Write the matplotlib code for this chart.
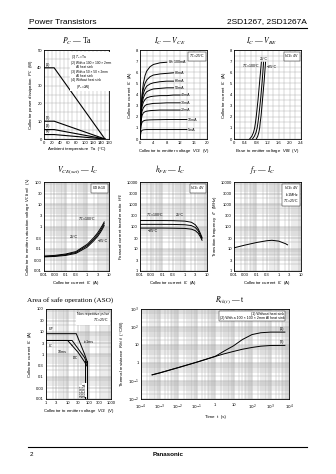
import matplotlib
matplotlib.use("Agg")
import matplotlib.pyplot as plt
from matplotlib.ticker import MultipleLocator, NullFormatter

W, H = 336, 474

# ---- P_C - Ta ----
TA = [0, 25, 150]
PC_1 = [40, 40, 0]
PC_2 = [10, 10, 0]
PC_3 = [5.3, 5.3, 0]
PC_4 = [2.5, 2.5, 0]

# ---- I_C - V_CE (Tc=25C) ----
VCE_GRID = [0, 0.3, 0.6, 1, 1.5, 2, 3, 4, 6, 8, 10, 12, 14]
IB_LABELS = ["$I_B$=100mA", "80mA", "60mA", "50mA", "40mA", "30mA", "20mA", "10mA", "5mA"]
IC_IB100 = [0, 2.6, 4.0, 5.0, 5.7, 6.1, 6.5, 6.7, 6.85, 6.9]
IC_IB80 = [0, 2.5, 3.7, 4.5, 5.0, 5.3, 5.6, 5.75, 5.85, 5.9, 5.95]
IC_IB60 = [0, 2.4, 3.5, 4.1, 4.5, 4.75, 4.95, 5.05, 5.15, 5.2, 5.2]
IC_IB50 = [0, 2.3, 3.2, 3.7, 4.05, 4.25, 4.4, 4.5, 4.55, 4.6, 4.6]
IC_IB40 = [0, 2.2, 2.9, 3.3, 3.55, 3.7, 3.8, 3.85, 3.9, 3.9, 3.95, 3.95]
IC_IB30 = [0, 1.9, 2.5, 2.8, 3.0, 3.1, 3.15, 3.2, 3.22, 3.25, 3.25, 3.25]
IC_IB20 = [0, 1.6, 2.1, 2.35, 2.45, 2.5, 2.55, 2.57, 2.6, 2.6, 2.6, 2.6]
IC_IB10 = [0, 1.2, 1.5, 1.62, 1.68, 1.7, 1.72, 1.73, 1.74, 1.75, 1.75, 1.75, 1.75]
IC_IB5 = [0, 0.65, 0.78, 0.82, 0.84, 0.85, 0.85, 0.85, 0.85, 0.85, 0.85, 0.85, 0.85]

# ---- I_C - V_BE (VCE=4V) ----
IC_VBE = [0, 0.25, 0.6, 1.0, 1.5, 2.1, 3.5, 5.2, 6.9]
VBE_100 = [0.56, 0.64, 0.70, 0.74, 0.77, 0.80, 0.86, 0.92, 0.98]
VBE_25 = [0.66, 0.73, 0.79, 0.83, 0.86, 0.89, 0.95, 1.01, 1.06]
VBE_M25 = [0.80, 0.85, 0.89, 0.92, 0.94, 0.97, 1.02, 1.08, 1.13]

# ---- V_CE(sat) - I_C ----
IC_SAT = [0.01, 0.03, 0.1, 0.3, 1, 2, 3, 4, 5, 6]
VSAT_100 = [0.047, 0.05, 0.058, 0.075, 0.16, 0.32, 0.52, 0.8, 1.15, 1.6]
VSAT_25 = [0.045, 0.047, 0.054, 0.068, 0.14, 0.27, 0.43, 0.65, 0.95, 1.35]
VSAT_M25 = [0.043, 0.045, 0.05, 0.062, 0.12, 0.23, 0.36, 0.54, 0.78, 1.1]

# ---- h_FE - I_C ----
IC_HFE = [0.01, 0.03, 0.1, 0.3, 1, 2, 3, 4, 5, 6]
HFE_100 = [185, 185, 185, 183, 175, 155, 120, 80, 50, 32]
HFE_25 = [125, 125, 125, 124, 120, 110, 90, 65, 42, 28]
HFE_M25 = [85, 85, 85, 84, 82, 76, 65, 50, 35, 24]

# ---- f_T - I_C ----
IC_FT = [0.01, 0.03, 0.1, 0.3, 0.5, 1, 2, 2.5]
FT = [11, 14.5, 19, 23, 24, 22, 17, 15]

# ---- ASO ----
ASO_V_1MS = [1, 25, 60, 80]
ASO_I_1MS = [8, 8, 1.0, 0.45]
ASO_V_10MS = [1, 16, 60, 80]
ASO_I_10MS = [4, 4, 0.7, 0.35]
ASO_V_DC = [1, 10, 30, 60, 80]
ASO_I_DC = [4, 4, 1.2, 0.45, 0.28]
VCEO = [60, 80]
VCEO_NAMES = ["2SD1267", "2SD1267A"]

# ---- R_th(t) - t ----
T_RTH = [4e-4, 1e-3, 1e-2, 1e-1, 1, 3, 10, 30, 100, 300, 1000, 6000]
RTH_1 = [0.22, 0.28, 0.55, 1.1, 2.3, 4.5, 9, 20, 38, 48, 52, 52]
RTH_2 = [0.22, 0.28, 0.55, 1.1, 2.3, 3.2, 4.4, 5.8, 7.3, 8.6, 9.4, 9.5]

plt.rcParams["font.family"] = ["Liberation Sans", "DejaVu Sans"]
plt.rcParams["mathtext.fontset"] = "dejavusans"

GRID = "#a8a8a8"
TS = 3.0     # tick labels
LS = 3.2     # axis labels
AS = 2.6     # annotations


def panel(fig, l, t, r, b):
    ax = fig.add_axes([l / W, 1 - b / H, (r - l) / W, (b - t) / H])
    ax.tick_params(which="both", labelsize=TS, length=0, pad=1.5)
    for s in ax.spines.values():
        s.set_linewidth(0.6)
    return ax


def lin_grid(ax, xminor, yminor):
    ax.xaxis.set_minor_locator(MultipleLocator(xminor))
    ax.yaxis.set_minor_locator(MultipleLocator(yminor))
    ax.grid(which="both", color=GRID, lw=0.3)
    ax.set_axisbelow(True)


def log_axes(ax, xticks, xlabels, yticks, ylabels):
    ax.set_xscale("log")
    ax.set_yscale("log")
    ax.set_xlim(xticks[0], xticks[-1])
    ax.set_ylim(yticks[0], yticks[-1])
    ax.set_xticks(xticks)
    ax.set_xticklabels(xlabels)
    ax.set_yticks(yticks)
    ax.set_yticklabels(ylabels)
    ax.xaxis.set_minor_formatter(NullFormatter())
    ax.yaxis.set_minor_formatter(NullFormatter())
    ax.grid(which="major", color="#8c8c8c", lw=0.35)
    ax.grid(which="minor", color=GRID, lw=0.3)
    ax.set_axisbelow(True)


def title(fig, x, y, s, size=5.5):
    fig.text(x / W, 1 - y / H, s, ha="center", va="center", fontsize=size,
             family="Liberation Serif", math_fontfamily="stix")


def labels(ax, xl, yl):
    ax.set_xlabel(xl, fontsize=LS, labelpad=1.5)
    ax.set_ylabel(yl, fontsize=LS, labelpad=1.5)


def box(ax, x, y, s, ha="right", va="top"):
    ax.text(x, y, s, transform=ax.transAxes, ha=ha, va=va, fontsize=AS,
            linespacing=1.2,
            bbox=dict(boxstyle="square,pad=0.25", fc="white", ec="black", lw=0.3))


def main():
    fig = plt.figure(figsize=(W / 100, H / 100), dpi=100)

    # header / footer
    fig.text(29 / W, 1 - 22 / H, "Power Transistors", fontsize=6, va="center")
    fig.text(307 / W, 1 - 22 / H, "2SD1267, 2SD1267A", fontsize=6, va="center", ha="right")
    fig.add_artist(plt.Line2D([28 / W, 307 / W], [1 - 27.5 / H] * 2, color="black", lw=0.8))
    fig.add_artist(plt.Line2D([28 / W, 307 / W], [1 - 447 / H] * 2, color="black", lw=0.8))
    fig.text(30 / W, 1 - 455 / H, "2", fontsize=4.5, va="center")
    fig.text(168 / W, 1 - 455 / H, "Panasonic", fontsize=4.5, va="center", ha="center",
             weight="bold")

    # P_C - Ta
    ax = panel(fig, 44, 50, 109, 139)
    for pc in (PC_1, PC_2, PC_3, PC_4):
        ax.plot(TA, pc, color="black", lw=0.8)
    ax.set_xlim(0, 160)
    ax.set_ylim(0, 50)
    ax.set_xticks(range(0, 161, 20))
    ax.set_yticks(range(0, 51, 10))
    lin_grid(ax, 10, 5)
    for name, pc in zip(["(1)", "(2)", "(3)", "(4)"], (PC_1, PC_2, PC_3, PC_4)):
        ax.text(4, pc[0] + 0.6, name, fontsize=AS, va="bottom")
    ax.text(66, 48.5, "(1) $T_C$=Ta\n(2) With a 100 × 100 × 2mm\n      Al heat sink\n"
            "(3) With a 50 × 50 × 2mm\n      Al heat sink\n(4) Without heat sink\n"
            "      ($P_C$=2W)", fontsize=2.3, va="top", linespacing=1.1,
            bbox=dict(fc="white", ec="none", pad=0.5))
    labels(ax, "Ambient temperature  Ta  (°C)", "Collector power dissipation  $P_C$  (W)")
    title(fig, 77, 41, "$P_C$ — Ta")

    # I_C - V_CE
    ax = panel(fig, 140, 50, 207, 139)
    curves = [IC_IB100, IC_IB80, IC_IB60, IC_IB50, IC_IB40, IC_IB30, IC_IB20, IC_IB10, IC_IB5]
    for name, ic in zip(IB_LABELS, curves):
        v = VCE_GRID[:len(ic)]
        ax.plot(v, ic, color="black", lw=0.7)
        ax.text(v[-1] + 0.3, ic[-1], name, fontsize=AS, va="center")
    ax.set_xlim(0, 20)
    ax.set_ylim(0, 8)
    ax.set_xticks(range(0, 21, 4))
    ax.set_yticks(range(0, 9))
    lin_grid(ax, 2, 0.5)
    box(ax, 0.97, 0.97, "$T_C$=25°C")
    labels(ax, "Collector to emitter voltage  $V_{CE}$  (V)", "Collector current  $I_C$  (A)")
    title(fig, 170, 41, "$I_C$ — $V_{CE}$")

    # I_C - V_BE
    ax = panel(fig, 234, 50, 301, 139)
    for vbe in (VBE_100, VBE_25, VBE_M25):
        ax.plot(vbe, IC_VBE, color="black", lw=0.7)
    ax.text(VBE_25[-1], 7.05, "25°C", fontsize=AS, ha="center", va="bottom")
    ax.text(VBE_100[-1] - 0.06, 6.5, "$T_C$=100°C", fontsize=AS, ha="right", va="center")
    ax.text(VBE_M25[-1] + 0.04, 6.5, "−25°C", fontsize=AS, ha="left", va="center")
    ax.set_xlim(0, 2.4)
    ax.set_ylim(0, 8)
    ax.set_xticks([0, 0.4, 0.8, 1.2, 1.6, 2.0, 2.4])
    ax.set_xticklabels(["0", "0.4", "0.8", "1.2", "1.6", "2.0", "2.4"])
    ax.set_yticks(range(0, 9))
    lin_grid(ax, 0.2, 0.5)
    box(ax, 0.97, 0.97, "$V_{CE}$=4V")
    labels(ax, "Base to emitter voltage  $V_{BE}$  (V)", "Collector current  $I_C$  (A)")
    title(fig, 262, 41, "$I_C$ — $V_{BE}$")

    ic_ticks = [0.01, 0.03, 0.1, 0.3, 1, 3, 10]
    ic_labels = ["0.01", "0.03", "0.1", "0.3", "1", "3", "10"]

    # V_CE(sat) - I_C
    ax = panel(fig, 44, 182, 109, 271)
    for vs in (VSAT_100, VSAT_25, VSAT_M25):
        ax.plot(IC_SAT, vs, color="black", lw=0.7)
    log_axes(ax, ic_ticks, ic_labels,
             [0.01, 0.03, 0.1, 0.3, 1, 3, 10, 30, 100],
             ["0.01", "0.03", "0.1", "0.3", "1", "3", "10", "30", "100"])
    ax.text(1.0, 1.5, "$T_C$=100°C", fontsize=AS, ha="center", va="bottom")
    ax.text(0.25, 0.3, "25°C", fontsize=AS, ha="center")
    ax.text(3.2, 0.2, "−25°C", fontsize=AS, ha="left")
    box(ax, 0.97, 0.97, "$I_C$/$I_B$=10")
    labels(ax, "Collector current  $I_C$  (A)",
           "Collector to emitter saturation voltage  $V_{CE(sat)}$  (V)")
    title(fig, 78, 170, "$V_{CE(sat)}$ — $I_C$")

    hfe_ticks = [1, 3, 10, 30, 100, 300, 1000, 3000, 10000]
    hfe_labels = ["1", "3", "10", "30", "100", "300", "1000", "3000", "10000"]

    # h_FE - I_C
    ax = panel(fig, 140, 182, 207, 271)
    for h in (HFE_100, HFE_25, HFE_M25):
        ax.plot(IC_HFE, h, color="black", lw=0.7)
    log_axes(ax, ic_ticks, ic_labels, hfe_ticks, hfe_labels)
    ax.text(0.018, 215, "$T_C$=100°C", fontsize=AS, va="bottom")
    ax.annotate("25°C", xy=(0.3, 190), xytext=(0.4, 260), fontsize=AS, va="bottom",
                arrowprops=dict(arrowstyle="-", lw=0.3))
    ax.text(0.022, 60, "−25°C", fontsize=AS, va="center")
    box(ax, 0.97, 0.97, "$V_{CE}$=4V")
    labels(ax, "Collector current  $I_C$  (A)", "Forward current transfer ratio  $h_{FE}$")
    title(fig, 170, 170, "$h_{FE}$ — $I_C$")

    # f_T - I_C
    ax = panel(fig, 234, 182, 301, 271)
    ax.plot(IC_FT, FT, color="black", lw=0.7)
    log_axes(ax, ic_ticks, ic_labels, hfe_ticks, hfe_labels)
    box(ax, 0.97, 0.97, "$V_{CE}$=4V\nf=1MHz\n$T_C$=25°C", ha="right")
    labels(ax, "Collector current  $I_C$  (A)", "Transition frequency  $f_T$  (MHz)")
    title(fig, 262, 170, "$f_T$ — $I_C$")

    # ASO
    ax = panel(fig, 46, 309, 111, 399)
    ax.plot(ASO_V_1MS, ASO_I_1MS, color="black", lw=0.7)
    ax.plot(ASO_V_10MS, ASO_I_10MS, color="black", lw=0.7)
    ax.plot(ASO_V_DC, ASO_I_DC, color="black", lw=0.7)
    for v, name in zip(VCEO, VCEO_NAMES):
        ax.plot([v, v], [0.01, 0.5], color="black", lw=0.7)
        ax.text(v * 0.92, 0.012, name, fontsize=2.2, rotation=90, ha="right", va="bottom",
                bbox=dict(fc="white", ec="none", pad=0.2))
    log_axes(ax, [1, 3, 10, 30, 100, 300, 1000],
             ["1", "3", "10", "30", "100", "300", "1000"],
             [0.01, 0.03, 0.1, 0.3, 1, 3, 10, 30, 100],
             ["0.01", "0.03", "0.1", "0.3", "1", "3", "10", "30", "100"])
    ax.text(1.2, ASO_I_1MS[0] * 1.1, "$I_{CP}$", fontsize=AS, va="bottom")
    ax.text(1.2, ASO_I_DC[0] * 0.85, "$I_C$", fontsize=AS, va="top")
    ax.text(58, 3.5, "t=1ms", fontsize=AS, va="center")
    ax.annotate("10ms", xy=(18, 2.6), xytext=(3.5, 1.2), fontsize=AS, va="center",
                arrowprops=dict(arrowstyle="-", lw=0.3))
    ax.text(17, 0.65, "DC", fontsize=AS, va="center")
    ax.text(0.97, 0.97, "Non repetitive pulse\n$T_C$=25°C", transform=ax.transAxes,
            ha="right", va="top", fontsize=AS, bbox=dict(fc="white", ec="none", pad=0.5))
    labels(ax, "Collector to emitter voltage  $V_{CE}$  (V)", "Collector current  $I_C$  (A)")
    title(fig, 70, 300, "Area of safe operation (ASO)", size=5.2)

    # R_th(t) - t
    ax = panel(fig, 141, 309, 289, 399)
    ax.plot(T_RTH, RTH_1, color="black", lw=0.7)
    ax.plot(T_RTH, RTH_2, color="black", lw=0.7)
    log_axes(ax, [1e-4, 1e-3, 1e-2, 1e-1, 1, 10, 1e2, 1e3, 1e4],
             ["$10^{-4}$", "$10^{-3}$", "$10^{-2}$", "$10^{-1}$", "1", "10",
              "$10^{2}$", "$10^{3}$", "$10^{4}$"],
             [1e-2, 1e-1, 1, 10, 1e2, 1e3],
             ["$10^{-2}$", "$10^{-1}$", "1", "10", "$10^{2}$", "$10^{3}$"])
    ax.tick_params(axis="x", pad=3)
    ax.text(3000, 62, "(1)", fontsize=AS, va="bottom")
    ax.text(3000, 11.5, "(2)", fontsize=AS, va="bottom")
    box(ax, 0.97, 0.97, "(1) Without heat sink\n(2) With a 100 × 100 × 2mm Al heat sink")
    labels(ax, "Time  t  (s)", "Thermal resistance  $R_{th(t)}$  (°C/W)")
    title(fig, 230, 300, "$R_{th(t)}$ — t")

    fig.savefig("out.png", dpi=100)
    plt.close(fig)


if __name__ == "__main__":
    main()
